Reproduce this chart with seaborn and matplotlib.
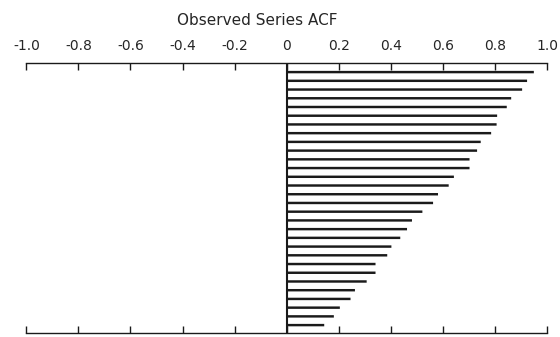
import matplotlib
matplotlib.use("Agg")
import matplotlib.pyplot as plt
import numpy as np
import pandas as pd
import seaborn as sns

# autocorrelations of the observed series, lags 1..30
lags = list(range(1, 31))
acf = [0.949, 0.923, 0.904, 0.862, 0.845, 0.808, 0.806, 0.785, 0.745, 0.731,
       0.702, 0.702, 0.642, 0.622, 0.581, 0.562, 0.521, 0.481, 0.462, 0.436,
       0.402, 0.386, 0.341, 0.341, 0.307, 0.262, 0.245, 0.204, 0.181, 0.144]
ticks = [-1.0, -0.8, -0.6, -0.4, -0.2, 0.0, 0.2, 0.4, 0.6, 0.8, 1.0]
tick_labels = ["-1.0", "-0.8", "-0.6", "-0.4", "-0.2", "0", "0.2", "0.4", "0.6", "0.8", "1.0"]

sns.set_style("white")
plt.rcParams["font.family"] = ["DejaVu Sans"]

df = pd.DataFrame({"lag": [str(l) for l in lags], "acf": acf})

fig = plt.figure(figsize=(5.6, 3.37), dpi=100)
ax = fig.add_axes([0.047, 0.012, 0.930, 0.801])
sns.barplot(data=df, x="acf", y="lag", orient="h", color="#1a1a1a",
            width=0.28, order=df["lag"], linewidth=0, ax=ax)
for p in ax.patches:
    p.set_snap(False)

ax.axvline(0, color="#1a1a1a", lw=1.5)
ax.set_xlim(-1.0, 1.0)
ax.set_ylim(29.9, -1.04)
ax.set_xticks(ticks)
ax.set_xticklabels(tick_labels, fontsize=10)
ax.set_yticks([])
ax.set_xlabel("")
ax.set_ylabel("")
ax.tick_params(axis="x", top=True, bottom=True, labeltop=True, labelbottom=False,
               direction="in", length=5, width=1, color="#1a1a1a", pad=7)
for side in ("left", "right"):
    ax.spines[side].set_visible(False)
for side in ("top", "bottom"):
    ax.spines[side].set_color("#1a1a1a")
    ax.spines[side].set_linewidth(1)

fig.text(0.46, 0.94, "Observed Series ACF", ha="center", va="center", fontsize=11)

fig.savefig("out.png", dpi=100)
